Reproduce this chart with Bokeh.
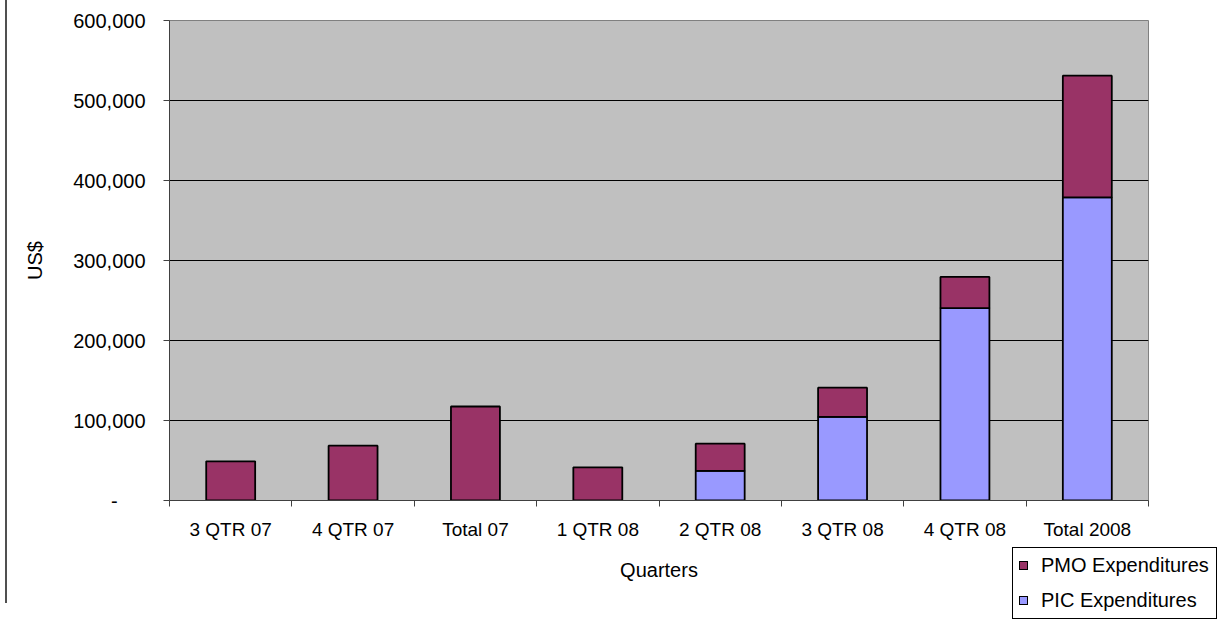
from bokeh.plotting import figure
from bokeh.models import FixedTicker, ColumnDataSource, Range1d, Spacer, Div
from bokeh.layouts import column
from bokeh.embed import file_html
from bokeh.resources import INLINE

categories = ["3 QTR 07", "4 QTR 07", "Total 07", "1 QTR 08", "2 QTR 08", "3 QTR 08", "4 QTR 08", "Total 2008"]
pic_expenditures = [0, 0, 0, 0, 37000, 104500, 240500, 379000]
pmo_expenditures = [49000, 68500, 117500, 41500, 34000, 36500, 39000, 152000]
y_ticks = [0, 100000, 200000, 300000, 400000, 500000, 600000]
y_tick_labels = ["-\u00a0\u00a0\u00a0\u00a0\u00a0", "100,000", "200,000", "300,000", "400,000", "500,000", "600,000"]
series_names = ["PMO Expenditures", "PIC Expenditures"]
series_colors = ["#993366", "#9999FF"]

n = len(categories)
x_centers = [i + 0.5 for i in range(n)]
x_bounds = list(range(n + 1))

source = ColumnDataSource(data=dict(x=x_centers, pic=pic_expenditures, pmo=pmo_expenditures))

FONT = "Liberation Sans"

p = figure(width=1201, height=603,
           x_range=Range1d(0, n), y_range=Range1d(y_ticks[0], y_ticks[-1]),
           output_backend="svg", toolbar_location=None,
           min_border_left=169, min_border_right=53, min_border_top=20, min_border_bottom=103,
           background_fill_color="#C0C0C0", border_fill_color="white",
           outline_line_color="#808080", outline_line_width=1)

renderers = p.vbar_stack(["pic", "pmo"], x="x", width=0.4, source=source,
                         fill_color=[series_colors[1], series_colors[0]], line_color="black", line_width=1.8)

p.xgrid.visible = False
p.ygrid.ticker = FixedTicker(ticks=y_ticks)
p.ygrid.grid_line_color = "black"
p.ygrid.grid_line_width = 1

# Y axis
yax = p.yaxis[0]
yax.ticker = FixedTicker(ticks=y_ticks)
yax.major_label_overrides = {t: l for t, l in zip(y_ticks, y_tick_labels)}
yax.major_tick_out = 6
yax.major_tick_in = 0
yax.minor_tick_line_color = None
yax.major_label_standoff = 18
yax.major_label_text_font = FONT
yax.major_label_text_font_size = "20px"
yax.major_label_text_color = "black"
yax.axis_line_color = "#404040"
yax.major_tick_line_color = "#404040"
yax.axis_label = "US$"
yax.axis_label_text_font = FONT
yax.axis_label_text_font_size = "20px"
yax.axis_label_text_font_style = "normal"
yax.axis_label_text_color = "black"
yax.axis_label_standoff = 24

# X axis
xax = p.xaxis[0]
xax.ticker = FixedTicker(ticks=x_centers, minor_ticks=x_bounds)
xax.major_label_overrides = {c: lab for c, lab in zip(x_centers, categories)}
xax.major_tick_out = 0
xax.major_tick_in = 0
xax.major_tick_line_color = None
xax.minor_tick_out = 6
xax.minor_tick_in = 0
xax.minor_tick_line_color = "#404040"
xax.axis_line_color = "#404040"
xax.major_label_standoff = 12
xax.major_label_text_font = FONT
xax.major_label_text_font_size = "19px"
xax.major_label_text_color = "black"
xax.axis_label = "Quarters"
xax.axis_label_text_font = FONT
xax.axis_label_text_font_size = "20px"
xax.axis_label_text_font_style = "normal"
xax.axis_label_text_color = "black"
xax.axis_label_standoff = 16

# Legend box (HTML) placed over the bottom-right corner of the chart
rows = []
for i, (name, color) in enumerate(zip(series_names, series_colors)):
    gap = 12 if i < len(series_names) - 1 else 0
    rows.append(
        f'<div style="display:flex;align-items:center;height:23px;line-height:23px;margin-bottom:{gap}px;white-space:nowrap;">'
        f'<span style="display:inline-block;box-sizing:border-box;width:9px;height:9px;background:{color};'
        f'border:1px solid #000;margin-right:13px;flex:none;"></span>'
        f'<span>{name}</span></div>'
    )
legend_html = (
    '<div style="box-sizing:border-box;width:205px;height:72px;border:1px solid #000;background:#fff;'
    f'padding:6px 6px;font-family:\'{FONT}\';font-size:20px;color:#000;overflow:hidden;">'
    + "".join(rows) + '</div>'
)
legend_div = Div(text=legend_html, width=205, height=72,
                 styles={"position": "absolute", "left": "1012px", "top": "547px", "margin": "0"})

edge_line = Spacer(width=2, height=603,
                   styles={"position": "absolute", "left": "5px", "top": "0px", "background-color": "#505050"})

layout = column(p, legend_div, edge_line, spacing=0)

open("out.html", "w").write(file_html(layout, INLINE))
